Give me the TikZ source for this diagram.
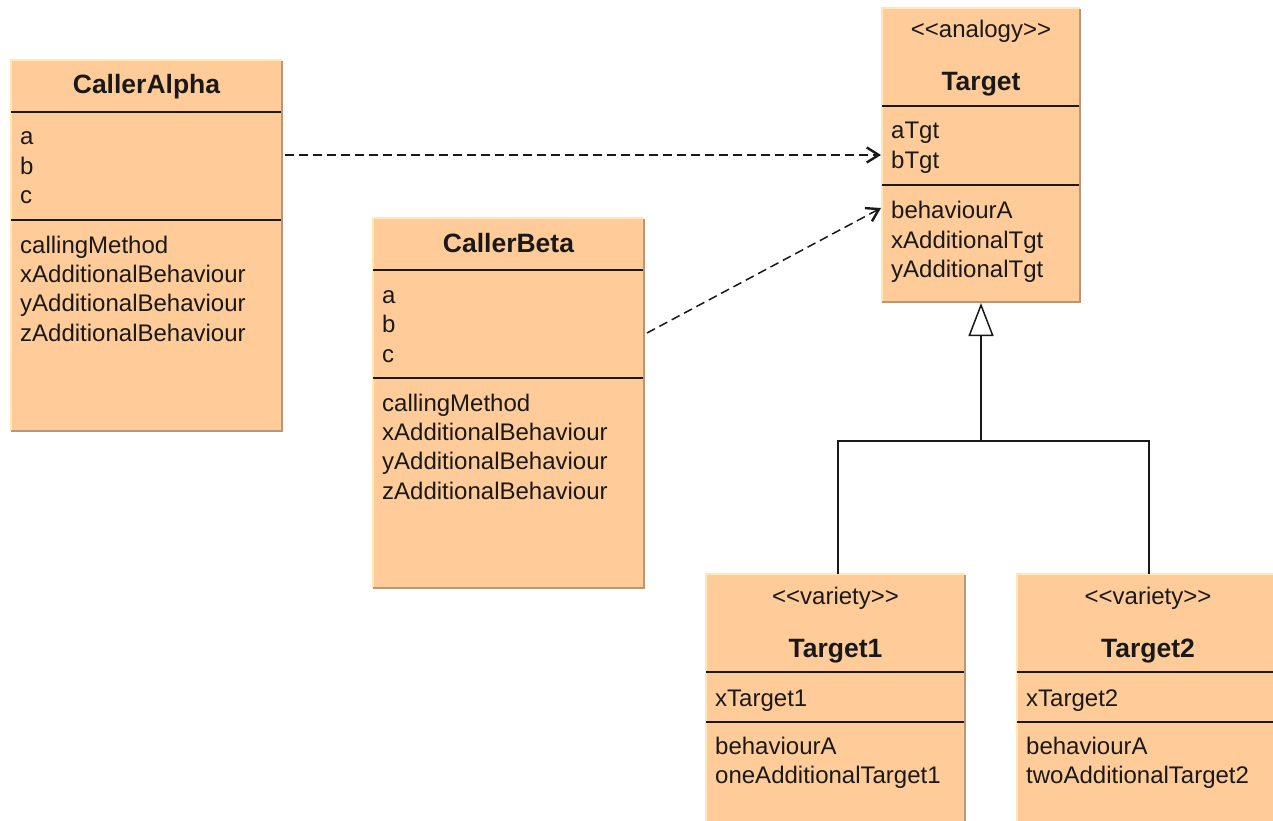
\documentclass[tikz,border=0pt]{standalone}
\usepackage{fontspec}
\setmainfont{Liberation Sans}
\usetikzlibrary{arrows.meta}

\definecolor{boxfill}{RGB}{255,204,153}
\definecolor{edgedark}{RGB}{184,150,118}
\definecolor{edgelight}{RGB}{255,232,180}
\definecolor{ink}{RGB}{25,25,25}

\tikzset{
  classbox/.style={rectangle, fill=boxfill, draw=none, inner sep=0pt, outer sep=0pt, anchor=north west},
  shadeedge/.style={draw=edgedark, line width=2pt},
  lightedge/.style={draw=edgelight, line width=1.2pt},
  sepline/.style={draw=ink, line width=1.4pt},
  member/.style={anchor=base west, inner sep=0pt, text=ink, font=\fontsize{24pt}{29pt}\selectfont},
  stereo/.style={anchor=base, inner sep=0pt, text=ink, font=\fontsize{24pt}{29pt}\selectfont},
  classname/.style={anchor=base, inner sep=0pt, text=ink, font=\fontsize{26.5pt}{31pt}\selectfont\bfseries},
  dependency/.style={draw=ink, line width=1.5pt, dash pattern=on 9pt off 5pt,
    -{Straight Barb[length=12pt, width=15pt, line width=2.4pt]}},
  generalization/.style={draw=ink, line width=1.5pt},
}

% class rectangle: name, left, top, width, height
\newcommand{\classrect}[5]{%
  \node[classbox, minimum width=#4pt, minimum height=#5pt] (#1) at (#2,#3) {};
  \draw[lightedge] (#1.south west) -- (#1.north west) -- (#1.north east);
  \draw[shadeedge] ([yshift=-1pt]#1.north east) -- (#1.south east) -- (#1.south west);
}
% horizontal compartment line at a given depth below the top
\newcommand{\compline}[2]{%
  \draw[sepline] ([yshift=-#2pt]#1.north west) -- ([yshift=-#2pt, xshift=-1pt]#1.north east);
}
% one member line: box, depth of baseline, text
\newcommand{\memberline}[3]{%
  \node[member] at ([xshift=9pt, yshift=-#2pt]#1.north west) {#3};
}

\begin{document}
\begin{tikzpicture}[x=1pt, y=-1pt]
\clip (0,0) rectangle (1273,821);
\fill[white] (0,0) rectangle (1273,821);

% ---------- CallerAlpha ----------
\classrect{ca}{11}{60}{271}{371}
\node[classname] at ([yshift=-34pt]ca.north) {CallerAlpha};
\compline{ca}{52}
\memberline{ca}{85}{a}
\memberline{ca}{114.5}{b}
\memberline{ca}{144}{c}
\compline{ca}{160}
\memberline{ca}{193}{callingMethod}
\memberline{ca}{222}{xAdditionalBehaviour}
\memberline{ca}{251.5}{yAdditionalBehaviour}
\memberline{ca}{281}{zAdditionalBehaviour}

% ---------- CallerBeta ----------
\classrect{cb}{373}{218}{271}{370}
\node[classname] at ([yshift=-34pt]cb.north) {CallerBeta};
\compline{cb}{52}
\memberline{cb}{85}{a}
\memberline{cb}{114.5}{b}
\memberline{cb}{144}{c}
\compline{cb}{160}
\memberline{cb}{193}{callingMethod}
\memberline{cb}{222}{xAdditionalBehaviour}
\memberline{cb}{251.5}{yAdditionalBehaviour}
\memberline{cb}{281}{zAdditionalBehaviour}

% ---------- Target ----------
\classrect{tg}{882}{8}{198}{294}
\node[stereo] at ([yshift=-30pt]tg.north) {<\kern0pt<analogy>\kern0pt>};
\node[classname] at ([yshift=-83pt]tg.north) {Target};
\compline{tg}{98}
\memberline{tg}{131}{aTgt}
\memberline{tg}{161}{bTgt}
\compline{tg}{177}
\memberline{tg}{210}{behaviourA}
\memberline{tg}{240}{xAdditionalTgt}
\memberline{tg}{269.5}{yAdditionalTgt}

% ---------- Target1 ----------
\classrect{ta}{706}{574}{259}{270}
\node[stereo] at ([yshift=-30pt]ta.north) {<\kern0pt<variety>\kern0pt>};
\node[classname] at ([yshift=-83pt]ta.north) {Target1};
\compline{ta}{98}
\memberline{ta}{132}{xTarget1}
\compline{ta}{148}
\memberline{ta}{180}{behaviourA}
\memberline{ta}{209.5}{oneAdditionalTarget1}

% ---------- Target2 ----------
\classrect{tb}{1017}{574}{262}{270}
\node[stereo] at ([yshift=-30pt]tb.north) {<\kern0pt<variety>\kern0pt>};
\node[classname] at ([yshift=-83pt]tb.north) {Target2};
\compline{tb}{98}
\memberline{tb}{132}{xTarget2}
\compline{tb}{148}
\memberline{tb}{180}{behaviourA}
\memberline{tb}{209.5}{twoAdditionalTarget2}

% ---------- dependencies ----------
\draw[dependency] ([xshift=3pt, yshift=-95pt]ca.north east) -- ([xshift=-1pt, yshift=-147pt]tg.north west);
\draw[dependency] ([xshift=3pt, yshift=-115pt]cb.north east) -- ([xshift=-1pt, yshift=-200pt]tg.north west);

% ---------- generalization ----------
\coordinate (junc) at (981,441);
\draw[generalization] ([xshift=2.5pt]ta.north) |- (junc);
\draw[generalization] ([xshift=1pt]tb.north) |- (junc);
\draw[generalization, -{Triangle[open, fill=white, length=33pt, width=25pt, line width=1.5pt]}]
  (junc) -- ([yshift=-1pt]tg.south);
\end{tikzpicture}
\end{document}
